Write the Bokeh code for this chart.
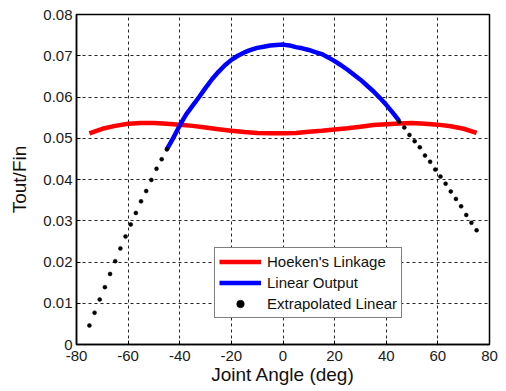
from bokeh.plotting import figure
from bokeh.models import FixedTicker, Legend, LegendItem
from bokeh.embed import file_html
from bokeh.resources import INLINE

# ---- data ----
hoeken_angle = [-75, -70, -65, -60, -55, -50, -45, -40, -35, -30, -25, -20, -15, -10, -5,
                0, 5, 10, 15, 20, 25, 30, 35, 40, 45, 50, 55, 60, 65, 70, 75]
hoeken_value = [0.0512, 0.0523, 0.0530, 0.0535, 0.0537, 0.0537, 0.0535, 0.0533, 0.0530,
                0.0526, 0.0522, 0.0518, 0.0515, 0.0513, 0.0512, 0.0512, 0.0513, 0.0516,
                0.0518, 0.0521, 0.0524, 0.0528, 0.0532, 0.0534, 0.0536, 0.0537, 0.0535,
                0.0533, 0.0529, 0.0523, 0.0513]

linear_angle = [-45, -42.5, -40, -37.5, -35, -32.5, -30, -27.5, -25, -22.5, -20, -17.5, -15,
                -12.5, -10, -7.5, -5, -2.5, 0, 2.5, 5, 7.5, 10, 12.5, 15, 17.5, 20, 22.5,
                25, 27.5, 30, 32.5, 35, 37.5, 40, 42.5, 45]
linear_value = [0.0473, 0.0501, 0.0531, 0.0558, 0.0579, 0.0600, 0.0622, 0.0643, 0.0661,
                0.0677, 0.0690, 0.0700, 0.0708, 0.0714, 0.0719, 0.0722, 0.0725, 0.0726,
                0.0727, 0.0725, 0.0721, 0.0718, 0.0714, 0.0709, 0.0704, 0.0696, 0.0687,
                0.0677, 0.0666, 0.0654, 0.0642, 0.0628, 0.0614, 0.0598, 0.0581, 0.0562,
                0.0542]

extrap_left_angle = [-75, -73, -71, -69, -67, -65, -63, -61, -59, -57, -55, -53, -51, -49, -47, -45]
extrap_left_value = [0.0046, 0.0077, 0.0109, 0.0139, 0.0171, 0.0202, 0.0233, 0.0262,
                     0.0291, 0.0319, 0.0347, 0.0372, 0.0399, 0.0426, 0.0449, 0.0473]
extrap_right_angle = [45, 47, 49, 51, 53, 55, 57, 59, 61, 63, 65, 67, 69, 71, 73, 75]
extrap_right_value = [0.0540, 0.0526, 0.0508, 0.0493, 0.0478, 0.0458, 0.0443, 0.0424,
                      0.0407, 0.0390, 0.0371, 0.0353, 0.0335, 0.0314, 0.0295, 0.0277]

x_ticks = [-80, -60, -40, -20, 0, 20, 40, 60, 80]
x_tick_labels = ["-80", "-60", "-40", "-20", "0", "20", "40", "60", "80"]
y_ticks = [0, 0.01, 0.02, 0.03, 0.04, 0.05, 0.06, 0.07, 0.08]
y_tick_labels = ["0", "0.01", "0.02", "0.03", "0.04", "0.05", "0.06", "0.07", "0.08"]

FONT = "Liberation Sans"

p = figure(width=505, height=390, x_range=(-80, 80), y_range=(0, 0.08),
           output_backend="svg", toolbar_location=None,
           min_border_left=76, min_border_right=16, min_border_top=14, min_border_bottom=46)

p.background_fill_color = "white"
p.border_fill_color = "white"
p.outline_line_color = "black"
p.outline_line_width = 1.5
p.outline_line_alpha = 1.0

p.xaxis.ticker = FixedTicker(ticks=x_ticks)
p.yaxis.ticker = FixedTicker(ticks=y_ticks)
p.xaxis.major_label_overrides = dict(zip(x_ticks, x_tick_labels))
p.yaxis.major_label_overrides = dict(zip(y_ticks, y_tick_labels))

for ax in (p.xaxis, p.yaxis):
    ax.major_label_text_font = FONT
    ax.major_label_text_font_size = "15px"
    ax.major_label_text_color = "#1a1a1a"
    ax.axis_label_text_font = FONT
    ax.axis_label_text_font_size = "19px"
    ax.axis_label_text_font_style = "normal"
    ax.axis_label_text_color = "#111111"
    ax.major_tick_in = 4
    ax.major_tick_out = 0
    ax.minor_tick_line_color = None
    ax.axis_line_color = "black"
    ax.axis_line_width = 1.5
    ax.major_tick_line_color = "black"

p.xaxis.axis_label = "Joint Angle (deg)"
p.yaxis.axis_label = "Tout/Fin"
p.xaxis.major_label_standoff = 6
p.xaxis.axis_label_standoff = 0
p.yaxis.major_label_standoff = 4
p.yaxis.axis_label_standoff = 10

p.grid.grid_line_color = "black"
p.grid.grid_line_dash = "3 3"
p.grid.grid_line_width = 1
p.grid.grid_line_alpha = 0.85

r_hoeken = p.line(hoeken_angle, hoeken_value, line_color="#ff0000", line_width=4.5)
r_linear = p.line(linear_angle, linear_value, line_color="#0000ff", line_width=4.5)
r_extrap = p.scatter(extrap_left_angle + extrap_right_angle,
                     extrap_left_value + extrap_right_value,
                     marker="circle", size=4, fill_color="black", line_color="black",
                     line_width=0.5)

legend = Legend(items=[
    LegendItem(label="Hoeken's Linkage", renderers=[r_hoeken]),
    LegendItem(label="Linear Output", renderers=[r_linear]),
    LegendItem(label="Extrapolated Linear", renderers=[r_extrap]),
], location=(138, 26))
legend.label_text_font = FONT
legend.label_text_font_size = "15px"
legend.label_text_color = "#111111"
legend.glyph_width = 42
legend.glyph_height = 19
legend.label_height = 19
legend.spacing = 2
legend.padding = 4
legend.label_standoff = 6
legend.margin = 0
legend.border_line_color = "black"
legend.border_line_width = 1
legend.background_fill_color = "white"
legend.background_fill_alpha = 1.0
p.add_layout(legend, "center")

open("out.html", "w").write(file_html(p, INLINE))
